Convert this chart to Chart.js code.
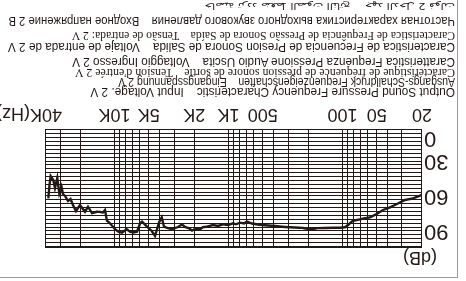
<!DOCTYPE html>
<html>
<head>
<meta charset="utf-8">
<script src="https://cdn.jsdelivr.net/npm/chart.js@4"></script>
<style>
html, body { margin: 0; padding: 0; background: #fff; }
#page { position: relative; width: 466px; height: 281px; overflow: hidden; background: #fff; transform: rotate(180deg); }
#frame { position: absolute; left: 8px; top: 3px; width: 470px; height: 290px; border-left: 1.5px solid #9b9b9b; border-top: 1.5px solid #9b9b9b; }
canvas { position: absolute; left: 0; top: 0; }
.cap { position: absolute; left: 11px; white-space: pre; color: #231815; line-height: 1; transform-origin: 0 50%; }
#db { position: absolute; left: 29px; top: 13px; font: 18px "Liberation Sans"; color: #231815; }
#hz { position: absolute; left: 436px; top: 157px; font: 18px "Liberation Sans"; color: #231815; }
</style>
</head>
<body>
<div id="page">
  <div id="frame"></div>
  <canvas id="spl" width="466" height="281"></canvas>
  <div id="db">(dB)</div>
  <div id="hz">(Hz)</div>
</div>
<script>
var freqHz = [20, 24, 28.2, 33.2, 38.2, 44, 50, 57.2, 63.3, 70, 80.7, 89.3, 94.9, 105, 121, 142, 167, 192, 222, 261,
  319, 391, 478, 551, 622, 688, 731, 793, 859, 912, 1009, 1117, 1236, 1367, 1545, 1675, 1779, 1968, 2090, 2222,
  2410, 2559, 2773, 3132, 3467, 3682, 3855, 4073, 4415, 4720, 5187, 5740, 5981, 6354, 6853, 7327, 7834, 8612, 9275, 9917,
  10970, 11670, 12140, 12640, 13430, 14270, 15780, 17110, 18190, 20120, 21830, 23190, 24380, 25640, 27230, 28390, 29250, 30570, 31860, 33360,
  34530, 36400, 37270, 38180];
var splDb = [59.1, 62.0, 63.4, 66.9, 69.7, 72.0, 75.4, 78.3, 79.1, 80.1, 81.2, 84.9, 86.8, 87.2, 87.2, 87.4, 87.7, 88.5, 87.4, 87.0,
  86.6, 85.7, 85.1, 84.4, 83.6, 82.0, 83.6, 82.9, 84.3, 83.4, 84.9, 84.3, 85.7, 84.9, 86.3, 86.8, 88.5, 88.3, 89.6, 87.7,
  86.6, 84.4, 86.6, 88.5, 87.4, 86.3, 78.3, 82.7, 94.3, 90.0, 86.3, 82.0, 83.6, 90.6, 91.3, 90.6, 88.5, 91.5, 90.6, 88.5,
  83.4, 81.2, 72.0, 74.1, 73.7, 73.5, 74.6, 69.2, 73.5, 67.7, 72.9, 67.7, 62.6, 64.3, 60.0, 58.3, 52.0, 57.7, 44.6, 53.1,
  46.3, 42.9, 50.6, 62.0];

// x axis
var xTickValues = [20, 50, 100, 500, 1000, 2000, 5000, 10000, 40000];
var xTickLabels = ['20', '50', '100', '500', '1K', '2K', '5K', '10K', '40K'];
var xGridHz = [20, 30, 40, 50, 60, 70, 80, 90,
  100, 200, 300, 400, 500, 600, 700, 800, 900,
  1000, 2000, 3000, 4000, 5000, 6000, 7000, 8000, 9000,
  10000, 20000, 30000, 40000];

// y axis (the printed "0" sits on the lowest labelled line)
var yMin = 3.4, yMax = 104.6;
var yTickValues = [10, 30, 60, 90];
var yTickLabels = ['0', '30', '60', '90'];

// caption lines under the chart
var captions = [
  ['Output Sound Pressure Frequency Characteristic    Input Voltage. 2 V', '12.5px "Liberation Sans"', 189, 365],
  ['Ausgangs-Schalldruck Frequenzeigenschaften    Eingangsspannung 2 V', '12px "Liberation Sans"', 199, 337],
  ['Caractéristique de fréquence de pression sonore de sortie    Tension d\'entrée 2 V', '12px "Liberation Serif"', 208, 380],
  ['Caratteristica Frequenza Pressione Audio Uscita    Voltaggio Ingresso 2 V', '12.5px "Liberation Sans"', 219, 383],
  ['Caracteristica de Frecuencia de Presion Sonora de Salida    Voltaje de entrada de 2 V', '13px "Liberation Sans"', 233, 447],
  ['Caracteristica de Frequência de Pressão Sonora de Saída    Tensão de entrada: 2 V', '11.5px "Liberation Serif"', 246, 383],
  ['Частотная характеристика выходного звукового давления    Входное напряжение 2 В', '13px "Liberation Sans"', 259, 447],
  ['خاصية تردد ضغط الصوت الناتج    جهد الدخل 2 فولت', '9px "DejaVu Sans"', 275, 250]
];

var page = document.getElementById('page');
captions.forEach(function(c) {
  var d = document.createElement('div');
  d.className = 'cap';
  d.textContent = c[0];
  d.style.font = c[1];
  d.style.lineHeight = '1';
  page.appendChild(d);
  var h = d.offsetHeight;
  d.style.top = (c[2] - h / 2) + 'px';
  d.style.transform = 'scaleX(' + (c[3] / d.offsetWidth) + ')';
});

var yGrid = [yMin];
for (var k = 0; k < 30; k++) yGrid.push(Math.round((90 - 10 / 3 * (k - 4)) * 1000) / 1000);
yGrid = yGrid.filter(function(v) { return v >= yMin && v <= yMax; });
yGrid.push(yMax);

var ink = '#231815';

var chart = new Chart(document.getElementById('spl'), {
  type: 'line',
  data: {
    datasets: [{
      data: freqHz.map(function(f, i) { return { x: f, y: splDb[i] }; }),
      borderColor: ink,
      borderWidth: 2.4,
      pointRadius: 0,
      tension: 0,
      fill: false
    }]
  },
  options: {
    responsive: false,
    animation: false,
    layout: { padding: { left: 0, top: 33, right: 46, bottom: 100 } },
    plugins: { legend: { display: false }, tooltip: { enabled: false } },
    scales: {
      x: {
        type: 'logarithmic',
        min: 20,
        max: 40000,
        afterBuildTicks: function(s) { s.ticks = xGridHz.map(function(v) { return { value: v }; }); },
        afterFit: function(s) { s.height = 30; },
        grid: { color: ink, lineWidth: 1, drawTicks: false },
        border: { color: ink, width: 1 },
        ticks: {
          autoSkip: false, maxRotation: 0, padding: 5, color: ink,
          font: { family: 'Liberation Sans', size: 18 },
          callback: function(v) {
            var i = xTickValues.indexOf(v);
            return i < 0 ? '' : xTickLabels[i];
          }
        }
      },
      y: {
        min: yMin,
        max: yMax,
        afterBuildTicks: function(s) { s.ticks = yGrid.map(function(v) { return { value: v }; }); },
        afterFit: function(s) { s.width = 44; },
        grid: { color: ink, lineWidth: 1, drawTicks: false },
        border: { color: ink, width: 1 },
        ticks: {
          autoSkip: false, padding: 2, color: ink,
          font: { family: 'Liberation Sans', size: 22 },
          callback: function(v) {
            for (var i = 0; i < yTickValues.length; i++) {
              if (Math.abs(yTickValues[i] - v) < 0.01) return yTickLabels[i];
            }
            return '';
          }
        }
      }
    }
  }
});
</script>
</body>
</html>
